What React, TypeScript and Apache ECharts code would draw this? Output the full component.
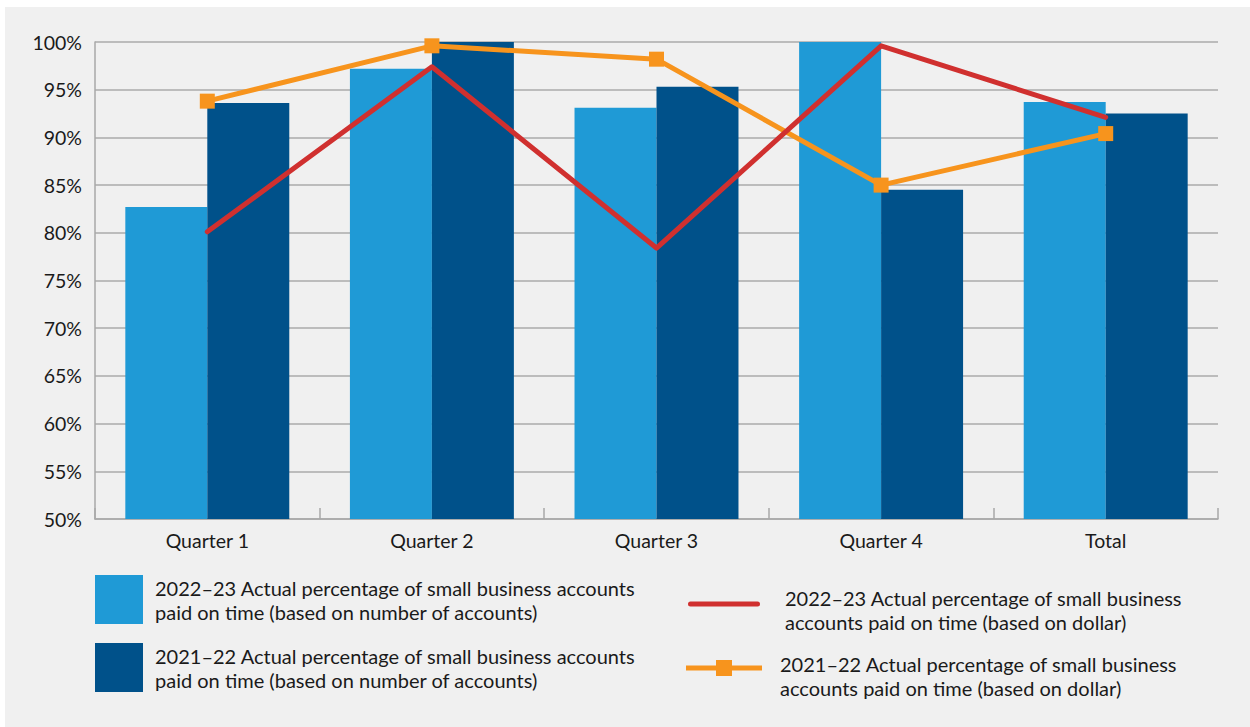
import React, { useEffect, useRef } from "react";
import * as echarts from "echarts";

const categories = ["Quarter 1", "Quarter 2", "Quarter 3", "Quarter 4", "Total"];
const bars2223Accounts = [82.7, 97.2, 93.1, 100, 93.7];
const bars2122Accounts = [93.6, 100, 95.3, 84.5, 92.5];
const line2223Dollar = [80.1, 97.4, 78.4, 99.6, 92.1];
const line2122Dollar = [93.8, 99.6, 98.2, 85.0, 90.4];
const yTicks = { min: 50, max: 100, interval: 5 };

const NAME_A = "2022\u201323 Actual percentage of small business accounts\npaid on time (based on number of accounts)";
const NAME_B = "2021\u201322 Actual percentage of small business accounts\npaid on time (based on number of accounts)";
const NAME_C = "2022\u201323 Actual percentage of small business\naccounts paid on time (based on dollar)";
const NAME_D = "2021\u201322 Actual percentage of small business\naccounts paid on time (based on dollar)";

const FONT = "Lato, 'Noto Sans', sans-serif";
const TEXT = "#1a1a1a";

// legend icons: a tiny invisible-size speck at the bottom shifts the drawn stroke upward
const RED_ICON = "path://M2.5,0H69.5A2.5,2.5,0,0,1,69.5,5H2.5A2.5,2.5,0,0,1,2.5,0Z M36,15.9H36.1V16H36Z";
const ORANGE_ICON = "path://M0,5.5H76V10.5H0Z M30,0H46V16H30Z M38,30.9H38.1V31H38Z";

export default function App() {
  const ref = useRef<HTMLDivElement>(null);
  useEffect(() => {
    document.body.style.margin = "0";
    if (!ref.current) return;
    const chart = echarts.init(ref.current, null, { renderer: "svg" });
    const legendText = (pad: number[]) => ({
      color: TEXT,
      fontFamily: FONT,
      fontSize: 20,
      lineHeight: 24,
      padding: pad,
    });
    chart.setOption({
      animation: false,
      textStyle: { fontFamily: FONT },
      grid: { left: 95, right: 32, top: 42, bottom: 208, containLabel: false },
      legend: [
        {
          data: [NAME_A], left: 95, top: 575, orient: "vertical", padding: 0,
          itemWidth: 48, itemHeight: 49, icon: "rect",
          textStyle: legendText([0, 0, 0, 7]), selectedMode: false,
        },
        {
          data: [NAME_B], left: 95, top: 643, orient: "vertical", padding: 0,
          itemWidth: 48, itemHeight: 49, icon: "rect",
          textStyle: legendText([0, 0, 0, 7]), selectedMode: false,
        },
        {
          data: [{ name: NAME_C, icon: RED_ICON }], left: 688, top: 585.5, orient: "vertical", padding: 0,
          itemWidth: 72, itemHeight: 16,
          textStyle: legendText([0, 0, 0, 20]), selectedMode: false,
        },
        {
          data: [{ name: NAME_D, icon: ORANGE_ICON }], left: 686, top: 651.5, orient: "vertical", padding: 0,
          itemWidth: 76, itemHeight: 31,
          textStyle: legendText([0, 0, 0, 13]), selectedMode: false,
        },
      ],
      xAxis: {
        type: "category",
        data: categories,
        axisLine: { show: true, lineStyle: { color: "#a9a9a9", width: 1.5 } },
        axisTick: { show: true, inside: true, length: 11, lineStyle: { color: "#a9a9a9", width: 1.5 } },
        axisLabel: { color: TEXT, fontSize: 19.5, margin: 11, fontFamily: FONT },
      },
      yAxis: {
        type: "value",
        min: yTicks.min,
        max: yTicks.max,
        interval: yTicks.interval,
        axisLine: { show: true, lineStyle: { color: "#a9a9a9", width: 1.5 } },
        axisTick: { show: false },
        axisLabel: {
          color: TEXT, fontSize: 19.5, margin: 13, formatter: "{value}%", fontFamily: FONT,
          padding: [4, 0, 0, 0],
        },
        splitLine: { show: true, lineStyle: { color: "#ababab", width: 1.5 } },
      },
      series: [
        {
          name: NAME_A, type: "bar", data: bars2223Accounts,
          barGap: "0%", barCategoryGap: "27%",
          itemStyle: { color: "#1f9ad6" },
        },
        {
          name: NAME_B, type: "bar", data: bars2122Accounts,
          barGap: "0%", barCategoryGap: "27%",
          itemStyle: { color: "#00518a" },
        },
        {
          name: NAME_D, type: "line", data: line2122Dollar,
          symbol: "rect", symbolSize: 15, showSymbol: true,
          lineStyle: { color: "#f7941d", width: 5 },
          itemStyle: { color: "#f7941d" },
          z: 3,
        },
        {
          name: NAME_C, type: "line", data: line2223Dollar,
          symbol: "none",
          lineStyle: { color: "#d0302f", width: 5, cap: "round", join: "round" },
          itemStyle: { color: "#d0302f" },
          z: 4,
        },
      ],
    });
    return () => chart.dispose();
  }, []);
  return (
    <div style={{ position: "relative", width: 1250, height: 727, background: "#ffffff" }}>
      <div style={{ position: "absolute", left: 5, top: 7, width: 1245, height: 720, background: "#f0f0f0" }} />
      <div ref={ref} style={{ position: "absolute", left: 0, top: 0, width: 1250, height: 727 }} />
    </div>
  );
}
